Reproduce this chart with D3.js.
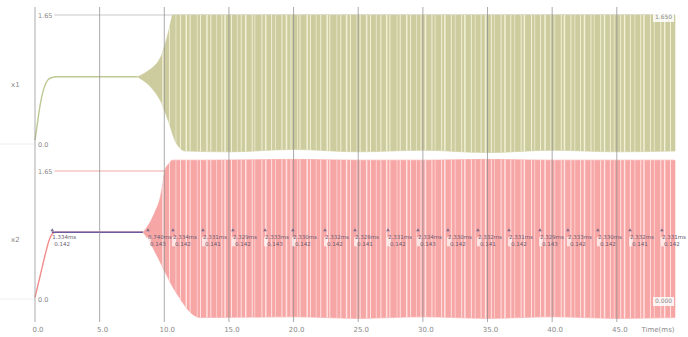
<!DOCTYPE html>
<html><head><meta charset="utf-8">
<script src="https://cdn.jsdelivr.net/npm/d3@7/dist/d3.min.js"></script>
<style>body{margin:0;background:#fff}svg{display:block}text{font-family:"DejaVu Sans",sans-serif}</style>
</head><body>
<svg id="c" width="688" height="337"></svg>
<script>
// ---- data ----
const xTicks = [0, 5, 10, 15, 20, 25, 30, 35, 40, 45];
const xTickLabels = ["0.0", "5.0", "10.0", "15.0", "20.0", "25.0", "30.0", "35.0", "40.0", "45.0"];
const xUnitLabel = "Time(ms)";
const yTicks = [0, 1.65];
const yTickLabels = ["0.0", "1.65"];
const seriesNames = ["x1", "x2"];

// settling part: [ms, V]
const topRise = [[0,0.05],[0.2,0.28],[0.4,0.5],[0.6,0.66],[0.8,0.76],[1.0,0.82],[1.3,0.85],[1.7,0.86],[7.9,0.86]];
const botRise = [[0,0.02],[0.4,0.3],[0.8,0.58],[1.1,0.76],[1.35,0.84],[1.6,0.86],[8.35,0.86]];

// oscillation envelope: [ms, min V, max V]
const topEnvelope = [[7.9,0.86,0.86],[8.3,0.82,0.89],[8.7,0.77,0.93],[9.1,0.7,0.98],[9.5,0.61,1.05],
  [9.8,0.52,1.14],[10.05,0.41,1.27],[10.3,0.3,1.42],[10.5,0.2,1.56],[10.65,0.12,1.65],[10.9,0.02,1.65],
  [11.2,-0.05,1.65],[11.6,-0.09,1.65],[15,-0.1,1.65],[20,-0.07,1.65],[25,-0.1,1.65],[30,-0.08,1.65],
  [35,-0.11,1.65],[40,-0.08,1.65],[45,-0.1,1.65],[49.5,-0.09,1.65]];
const botEnvelope = [[8.35,0.86,0.86],[8.9,0.73,0.99],[9.3,0.6,1.13],[9.67,0.48,1.3],[9.9,0.4,1.5],
  [10.05,0.35,1.66],[10.44,0.22,1.76],[10.6,0.17,1.79],[11.2,0.01,1.79],[12.0,-0.17,1.79],[12.8,-0.24,1.79],
  [20,-0.23,1.8],[25,-0.25,1.79],[30,-0.23,1.79],[35,-0.25,1.8],[40,-0.23,1.79],[45,-0.25,1.79],[49.5,-0.24,1.79]];

// light gaps seen through the dense oscillation (ms)
const gapTimes = [9.9, 10.4, 10.9, 11.25, 11.7, 12.0, 12.55, 12.8, 13.3, 13.6, 14.05, 14.45, 14.7, 15.2, 15.65,
  15.95, 16.3, 16.8, 17.0, 17.55, 17.85, 18.3, 18.6, 19.1, 19.45, 19.8, 20.3, 20.5, 21.05, 21.3, 21.75, 22.1,
  22.6, 22.8, 23.35, 23.65, 24.1, 24.4, 24.9, 25.15, 25.65, 25.95, 26.4, 26.75, 27.2, 27.45, 28.0, 28.25, 28.75,
  29.05, 29.5, 29.85, 30.2, 30.7, 30.95, 31.45, 31.7, 32.2, 32.5, 33.0, 33.25, 33.75, 34.05, 34.5, 34.85,
  35.3, 35.55, 36.05, 36.35, 36.8, 37.1, 37.6, 37.85, 38.4, 38.65, 39.1, 39.45, 39.9, 40.2, 40.7, 40.95,
  41.45, 41.75, 42.2, 42.5, 43.0, 43.25, 43.75, 44.05, 44.5, 44.8, 45.3, 45.6, 46.05, 46.4, 46.85, 47.1,
  47.6, 47.9, 48.4, 48.7, 49.15];

// cursor segment on x2: [start ms, end ms, V]
const cursorSeg = [1.3, 8.35, 0.86];

// marker readouts on x2
const markerTimes = [1.334, 8.74, 10.67, 12.99, 15.31, 17.79, 19.95, 22.43, 24.75, 27.3, 29.62, 31.94, 34.26, 36.66, 39.06, 41.22, 43.54, 46.02, 48.49];
const markerValues = [0.86, 0.86, 0.86, 0.86, 0.86, 0.86, 0.86, 0.86, 0.86, 0.86, 0.86, 0.86, 0.86, 0.86, 0.86, 0.86, 0.86, 0.86, 0.86];
const markerLine1 = ["1.334ms","8.740ms","2.334ms","2.331ms","2.329ms","2.333ms","2.330ms","2.332ms","2.328ms","2.331ms","2.334ms","2.330ms","2.332ms","2.331ms","2.329ms","2.333ms","2.330ms","2.332ms","2.331ms"];
const markerLine2 = ["0.142","0.143","0.142","0.141","0.142","0.143","0.142","0.142","0.141","0.142","0.143","0.142","0.141","0.142","0.143","0.142","0.142","0.141","0.142"];

const endReadouts = ["1.650", "0.000"];

// ---- drawing ----
const svg = d3.select("#c");
const x = d3.scaleLinear().domain([0, 49.5]).range([35, 675]);
const yTop = d3.scaleLinear().domain([0, 1.65]).range([144, 15]);
const yBot = d3.scaleLinear().domain([0, 1.65]).range([299, 171]);

const panels = [
  {y: yTop, rise: topRise, env: topEnvelope, fill: "#cdcc9f", line: "#bcc992", gap: "#f5f5dc", ref: "#c8c8c8", id: "t"},
  {y: yBot, rise: botRise, env: botEnvelope, fill: "#f7a6a6", line: "#f28c8c", gap: "#ffe8e8", ref: "#f2a8a8", id: "b"}
];

panels.forEach(p => {
  svg.append("line").attr("x1", x(1.5)).attr("x2", x(49.5))
    .attr("y1", p.y(1.65)).attr("y2", p.y(1.65)).attr("stroke", p.ref).attr("stroke-width", 1);
  svg.append("line").attr("x1", 0).attr("x2", x(0))
    .attr("y1", p.y(0)).attr("y2", p.y(0)).attr("stroke", "#eee").attr("stroke-width", 1);
});

const defs = svg.append("defs");
panels.forEach(p => {
  const area = d3.area().x(d => x(d[0])).y0(d => p.y(d[1])).y1(d => p.y(d[2])).curve(d3.curveMonotoneX);
  defs.append("clipPath").attr("id", "clip" + p.id).append("path").attr("d", area(p.env));
  svg.append("path").attr("d", area(p.env)).attr("fill", p.fill).attr("stroke", p.fill).attr("stroke-width", 0.6);
  const lo = d3.min(p.env, d => d[1]), hi = d3.max(p.env, d => d[2]);
  svg.append("g").attr("clip-path", "url(#clip" + p.id + ")")
    .selectAll("line").data(gapTimes).join("line")
    .attr("x1", d => x(d)).attr("x2", d => x(d))
    .attr("y1", p.y(hi) - 2).attr("y2", p.y(lo) + 2)
    .attr("stroke", p.gap).attr("opacity", 0.9)
    .attr("stroke-width", (d, i) => (i % 4 === 0 ? 1.5 : (i % 4 === 2 ? 0.7 : 1.0)));
  svg.append("path").datum(p.rise)
    .attr("d", d3.line().x(d => x(d[0])).y(d => p.y(d[1])).curve(d3.curveMonotoneX))
    .attr("fill", "none").attr("stroke", p.line).attr("stroke-width", 1.4);
});

// cursor segment
svg.append("line").attr("x1", x(cursorSeg[0])).attr("x2", x(cursorSeg[1]))
  .attr("y1", yBot(cursorSeg[2])).attr("y2", yBot(cursorSeg[2]))
  .attr("stroke", "#6e5aa0").attr("stroke-width", 1.6);

// vertical grid
svg.append("g").selectAll("line").data(xTicks).join("line")
  .attr("x1", d => x(d)).attr("x2", d => x(d)).attr("y1", 7).attr("y2", 322)
  .attr("stroke", "#8f8f8f").attr("stroke-width", 1).attr("opacity", 0.75);

// x tick labels
svg.append("g").selectAll("text").data(xTicks).join("text")
  .attr("x", d => x(d) + 3).attr("y", 332).attr("text-anchor", "middle")
  .attr("font-size", 7).attr("fill", "#8a8a8a").text((d, i) => xTickLabels[i]);
svg.append("text").attr("x", 658).attr("y", 332).attr("text-anchor", "middle")
  .attr("font-size", 7).attr("fill", "#8a8a8a").text(xUnitLabel);

// y labels
panels.forEach((p, k) => {
  yTicks.forEach((t, i) => {
    svg.append("text").attr("x", x(0) + 3).attr("y", p.y(t) + 2.5)
      .attr("font-size", 6.5).attr("fill", "#888").text(yTickLabels[i]);
  });
  svg.append("text").attr("x", 11).attr("y", p.y(0.86) + 10)
    .attr("font-size", 7).attr("fill", "#888").text(seriesNames[k]);
});

// marker readouts
const mk = svg.append("g");
markerTimes.forEach((t, i) => {
  const mx = x(t), my = yBot(markerValues[i]);
  mk.append("rect").attr("x", mx - 1).attr("y", my + 5).attr("width", 4).attr("height", 9)
    .attr("fill", "#fff").attr("opacity", 0.7);
  mk.append("path").attr("d", `M${mx - 1.8},${my - 1} L${mx},${my - 4} L${mx + 1.8},${my - 1} Z`)
    .attr("fill", "#7a6a8a");
  mk.append("text").attr("x", mx).attr("y", my + 6.5).attr("font-size", 5.5)
    .attr("fill", "#6a5a6e").text(markerLine1[i]);
  mk.append("text").attr("x", mx + 2).attr("y", my + 14).attr("font-size", 5.5)
    .attr("fill", "#6a5a6e").text(markerLine2[i]);
});

// end readouts
[[yTop(1.65) + 4, endReadouts[0]], [yBot(0) + 4, endReadouts[1]]].forEach(r => {
  svg.append("rect").attr("x", 653).attr("y", r[0] - 6).attr("width", 21).attr("height", 9)
    .attr("fill", "#fff").attr("opacity", 0.85);
  svg.append("text").attr("x", 663.5).attr("y", r[0]).attr("text-anchor", "middle")
    .attr("font-size", 6).attr("fill", "#888").text(r[1]);
});
</script>
</body></html>
